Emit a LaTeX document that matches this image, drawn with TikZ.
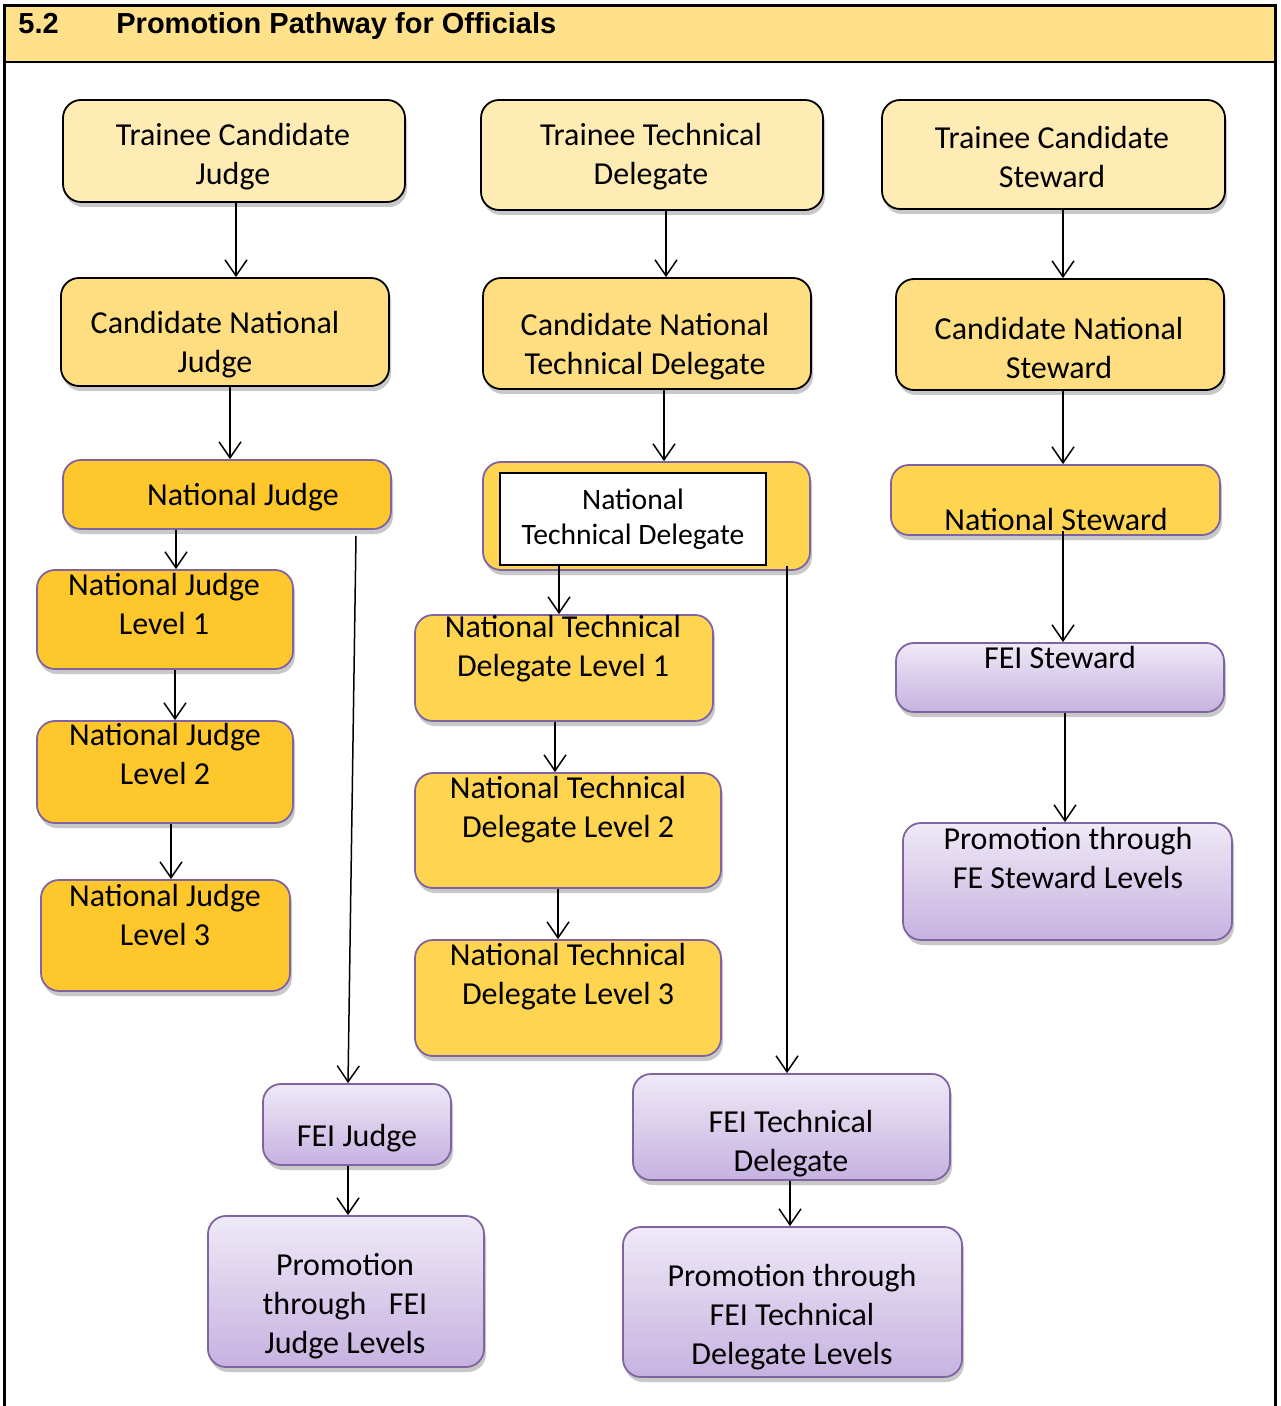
\documentclass[tikz,border=0pt]{standalone}
\usepackage{fontspec}
\newfontfamily\calfont{Carlito}
\newfontfamily\arialfont{Liberation Sans}
\usetikzlibrary{arrows.meta,shadows,fit}
\definecolor{hdr}{HTML}{FFE08B}
\definecolor{trainee}{HTML}{FFEBB4}
\definecolor{cand}{HTML}{FEDE80}
\definecolor{natj}{HTML}{FEC72C}
\definecolor{natt}{HTML}{FFD450}
\definecolor{ptop}{HTML}{EFE9F7}
\definecolor{pbot}{HTML}{C6B2E0}
\definecolor{pborder}{HTML}{8064A2}
\tikzset{
  boxbase/.style={rounded corners=9pt, inner sep=0pt, line width=0.9pt,
    drop shadow={shadow xshift=1pt, shadow yshift=-2.5pt, opacity=0.3, fill=black!70}},
  trbox/.style={boxbase, draw=black, fill=trainee},
  cdbox/.style={boxbase, draw=black, fill=cand},
  njbox/.style={boxbase, draw=pborder, fill=natj},
  ntbox/.style={boxbase, draw=pborder, fill=natt},
  pubox/.style={boxbase, draw=pborder, top color=ptop, bottom color=pbot},
  txt/.style={font=\calfont\fontsize{16}{19.5}\selectfont, align=center, inner sep=0pt},
  arr/.style={-{Straight Barb[length=8pt,width=11pt]}, line width=0.75pt, black},
}
\begin{document}
\begin{tikzpicture}[x=0.5pt,y=-0.5pt]
\useasboundingbox (0,0) rectangle (1280,1406);
\fill[white] (0,0) rectangle (1280,1406);
% header
\fill[hdr] (4,6) rectangle (1275,62);
\draw[line width=1pt] (4,62) -- (1275,62);
\draw[line width=1.5pt] (4,1406) -- (4,6) -- (1275,6) -- (1275,1406);
\node[anchor=base west, inner sep=0pt, font=\arialfont\bfseries\fontsize{14.5}{18}\selectfont] (secnum) at (18,34) {5.2};
\node[anchor=base west, inner sep=0pt, font=\arialfont\bfseries\fontsize{14.5}{18}\selectfont] (title) at (116,34) {Promotion Pathway for Officials};

% column 1: judges
\node[trbox, fit={(63,100) (405,202)}] (tcj) {};
\node[txt] (tcj-t) at (233,157) {Trainee Candidate\\Judge};
\node[cdbox, fit={(61,278) (389,386)}] (cnj) {};
\node[txt] (cnj-t) at (215,345) {Candidate National\\Judge};
\node[njbox, fit={(63,460) (391,529)}] (nj) {};
\node[txt] (nj-t) at (243,497) {National Judge};
\node[njbox, fit={(37,570) (293,669)}] (njl1) {};
\node[txt] (njl1-t) at (164,604) {National Judge\\Level 1};
\node[njbox, fit={(37,721) (293,823)}] (njl2) {};
\node[txt] (njl2-t) at (165,754) {National Judge\\Level 2};
\node[njbox, fit={(41,880) (290,991)}] (njl3) {};
\node[txt] (njl3-t) at (165,915) {National Judge\\Level 3};
\node[pubox, fit={(263,1084) (451,1165)}] (fj) {};
\node[txt] (fj-t) at (357,1138) {FEI Judge};
\node[pubox, fit={(208,1216) (484,1367)}] (pfj) {};
\node[txt] (pfj-t) at (345,1306) {Promotion\\through\hspace{0.7em}FEI\\Judge Levels};

% column 2: technical delegates
\node[trbox, fit={(481,100) (823,210)}] (ttd) {};
\node[txt] (ttd-t) at (651,157) {Trainee Technical\\Delegate};
\node[cdbox, fit={(483,278) (811,389)}] (cntd) {};
\node[txt] (cntd-t) at (645,347) {Candidate National\\Technical Delegate};
\node[ntbox, fit={(483,462) (810,570)}] (ntd) {};
\node[draw=black, line width=0.9pt, fill=white, minimum width=133pt, minimum height=46pt, inner sep=0pt,
      font=\calfont\fontsize{14.8}{17.5}\selectfont, align=center] (ntdin) at (633,519) {National\\Technical Delegate};
\node[ntbox, fit={(415,615) (713,721)}] (ntdl1) {};
\node[txt] (ntdl1-t) at (563,649) {National Technical\\Delegate Level 1};
\node[ntbox, fit={(415,773) (721,888)}] (ntdl2) {};
\node[txt] (ntdl2-t) at (568,810) {National Technical\\Delegate Level 2};
\node[ntbox, fit={(415,940) (721,1056)}] (ntdl3) {};
\node[txt] (ntdl3-t) at (568,977) {National Technical\\Delegate Level 3};
\node[pubox, fit={(633,1074) (950,1180)}] (ftd) {};
\node[txt] (ftd-t) at (791,1144) {FEI Technical\\Delegate};
\node[pubox, fit={(623,1227) (962,1377)}] (ptd) {};
\node[txt] (ptd-t) at (792,1317) {Promotion through\\FEI Technical\\Delegate Levels};

% column 3: stewards
\node[trbox, fit={(882,100) (1225,209)}] (tcs) {};
\node[txt] (tcs-t) at (1052,157) {Trainee Candidate\\Steward};
\node[cdbox, fit={(896,279) (1224,390)}] (cns) {};
\node[txt] (cns-t) at (1059,348) {Candidate National\\Steward};
\node[ntbox, fit={(891,465) (1220,535)}] (ns) {};
\node[txt] (ns-t) at (1056,520) {National Steward};
\node[pubox, fit={(896,643) (1224,712)}] (fs) {};
\node[txt] (fs-t) at (1060,658) {FEI Steward};
\node[pubox, fit={(903,823) (1232,940)}] (pfs) {};
\node[txt] (pfs-t) at (1068,858) {Promotion through\\FE Steward Levels};

% connectors
\draw[arr] ([xshift=1pt]tcj.south) -- ([xshift=5.5pt]cnj.north);
\draw[arr] ([xshift=2.5pt]cnj.south) -- ([xshift=1.5pt]nj.north);
\draw[arr] ([xshift=-25.5pt]nj.south) -- ([xshift=5.5pt]njl1.north);
\draw[arr] ([xshift=5pt]njl1.south) -- ([xshift=5pt]njl2.north);
\draw[arr] ([xshift=3pt]njl2.south) -- ([xshift=2.75pt]njl3.north);
\draw[arr] ([xshift=64.5pt,yshift=-3pt]nj.south) -- ([xshift=-4.5pt]fj.north);
\draw[arr] ([xshift=-4.5pt]fj.south) -- ([xshift=1pt]pfj.north);

\draw[arr] ([xshift=7pt]ttd.south) -- ([xshift=9.5pt]cntd.north);
\draw[arr] ([xshift=8.5pt]cntd.south) -- ([xshift=8.75pt]ntd.north);
\draw[arr] ([xshift=-37pt]ntdin.south) -- ([xshift=-2.5pt]ntdl1.north);
\draw[arr] ([xshift=-4.5pt]ntdl1.south) -- ([xshift=-6.5pt]ntdl2.north);
\draw[arr] ([xshift=-5pt]ntdl2.south) -- ([xshift=-5pt]ntdl3.north);
\draw[arr] ([xshift=70.25pt,yshift=2.5pt]ntd.south) -- ([xshift=-2.25pt]ftd.north);
\draw[arr] ([xshift=-0.75pt]ftd.south) -- ([xshift=-1.25pt]ptd.north);

\draw[arr] ([xshift=4.75pt]tcs.south) -- ([xshift=1.5pt]cns.north);
\draw[arr] ([xshift=1.5pt]cns.south) -- ([xshift=3.75pt]ns.north);
\draw[arr] ([xshift=3.75pt,yshift=2.5pt]ns.south) -- ([xshift=1.5pt]fs.north);
\draw[arr] ([xshift=2.5pt]fs.south) -- ([xshift=-1.25pt]pfs.north);
\end{tikzpicture}
\end{document}
